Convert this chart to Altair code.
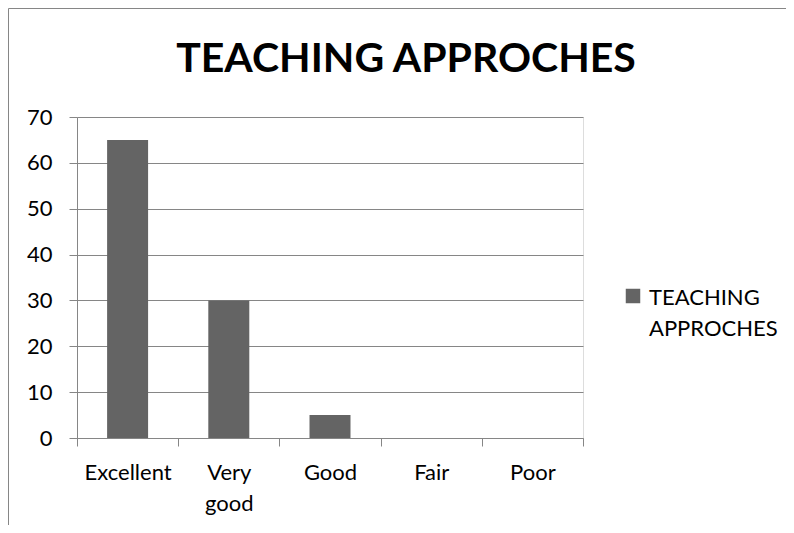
import altair as alt
import pandas as pd

categories = ["Excellent", "Very good", "Good", "Fair", "Poor"]
values = [65, 30, 5, 0, 0]
series_name = "TEACHING APPROCHES"
y_ticks = [0, 10, 20, 30, 40, 50, 60, 70]
chart_title = "TEACHING APPROCHES"

df = pd.DataFrame({
    "category": categories,
    "value": values,
    "series": [series_name] * len(categories),
})
legend_df = pd.DataFrame({"series": [series_name]})

GRAY = "#868686"
BAR = "#646464"
FONT = "Lato"
LABEL_SIZE = 22

PLOT_W, PLOT_H = 506, 321
PAD_L, PAD_T = 69, 109
TOTAL_W, TOTAL_H = 778, 517

color_scale = alt.Scale(domain=[series_name], range=[BAR])

bars = alt.Chart(df).mark_bar(width={"band": 0.405}).encode(
    x=alt.X(
        "category:N", sort=categories, title=None,
        scale=alt.Scale(paddingInner=0, paddingOuter=0),
        axis=alt.Axis(
            tickBand="extent", labelAngle=0, labelFont=FONT, labelFontSize=LABEL_SIZE,
            labelColor="black", labelPadding=16, tickSize=8, tickColor=GRAY,
            domainColor=GRAY, grid=False, labelLineHeight=31,
            labelExpr="split(datum.label, ' ')",
        ),
    ),
    y=alt.Y(
        "value:Q", title=None,
        scale=alt.Scale(domain=[0, 70], nice=False),
        axis=alt.Axis(
            values=y_ticks, labelFont=FONT, labelFontSize=LABEL_SIZE, labelColor="black",
            labelPadding=17, tickSize=8, tickColor=GRAY, domainColor=GRAY,
            gridColor=GRAY, gridOpacity=1,
        ),
    ),
    color=alt.Color("series:N", scale=color_scale, legend=None),
)

# legend (symbol + wrapped label), drawn to the right of the plot
legend_symbol = alt.Chart(legend_df).mark_square(size=210, opacity=1).encode(
    x=alt.value(556), y=alt.value(179),
    color=alt.Color("series:N", scale=color_scale, legend=None),
)
legend_label = alt.Chart(legend_df).transform_calculate(
    lines="split(datum.series, ' ')"
).mark_text(
    align="left", baseline="alphabetic", font=FONT, fontSize=LABEL_SIZE,
    lineHeight=31, color="black",
).encode(
    x=alt.value(572), y=alt.value(188), text="lines:N",
)

frame_src = pd.DataFrame({"k": [0]})
top_line = alt.Chart(frame_src).mark_rule(color=GRAY, strokeWidth=1).encode(
    x=alt.value(-PAD_L + 0.5), x2=alt.value(TOTAL_W - PAD_L), y=alt.value(-PAD_T + 0.5)
)
left_line = alt.Chart(frame_src).mark_rule(color=GRAY, strokeWidth=1).encode(
    x=alt.value(-PAD_L + 0.5), y=alt.value(-PAD_T + 0.5), y2=alt.value(TOTAL_H - PAD_T)
)

chart = alt.layer(bars, legend_symbol, legend_label, top_line, left_line).properties(
    width=PLOT_W, height=PLOT_H,
    title=alt.TitleParams(
        chart_title, font=FONT, fontSize=41, fontWeight="bold", color="black",
        anchor="middle", frame="group", dx=76, offset=0, dy=73,
    ),
    autosize=alt.AutoSizeParams(type="none"),
    padding={"left": PAD_L, "top": PAD_T, "right": TOTAL_W - PAD_L - PLOT_W,
             "bottom": TOTAL_H - PAD_T - PLOT_H},
).configure_view(stroke=None).configure(background="white")

chart.save("out.html", embed_options={"renderer": "svg", "actions": False})
